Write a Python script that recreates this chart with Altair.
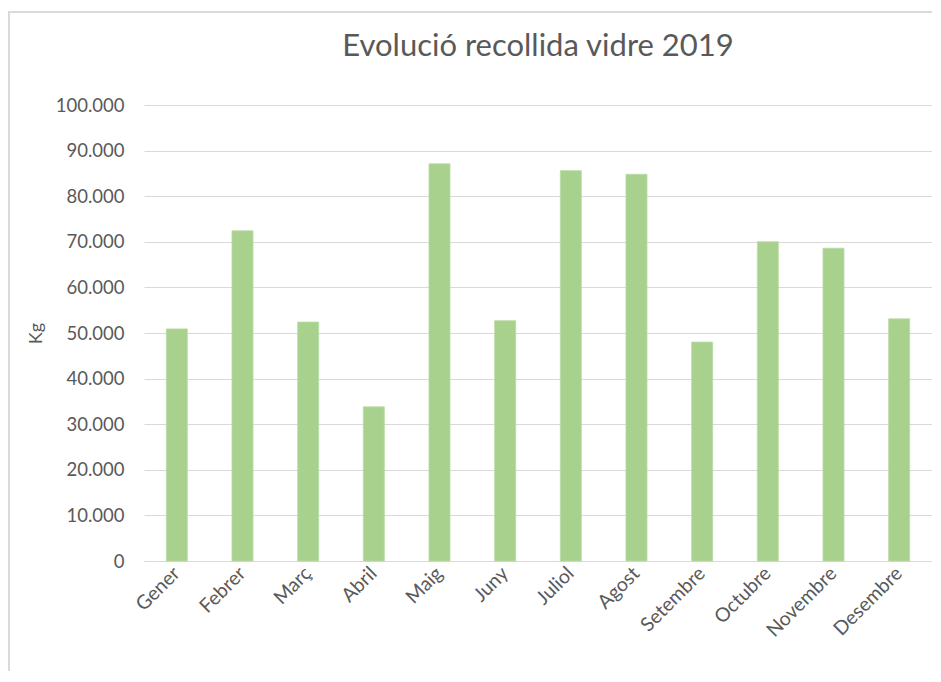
import altair as alt
import pandas as pd

months = ["Gener", "Febrer", "Març", "Abril", "Maig", "Juny", "Juliol", "Agost",
          "Setembre", "Octubre", "Novembre", "Desembre"]
kg = [50900, 72400, 52400, 33800, 87100, 52700, 85600, 84800, 48000, 70000, 68600, 53100]

df = pd.DataFrame({"Mes": months, "Kg": kg})

FONT = "Lato"
GREY = "#595959"

bars = alt.Chart(df).mark_bar(color="#A9D18E", stroke="#B9DBA2", strokeWidth=0.8).encode(
    x=alt.X("Mes:N", sort=months, title=None,
            scale=alt.Scale(paddingInner=0.68, paddingOuter=0.34),
            axis=alt.Axis(labelAngle=-45, labelAlign="right", labelBaseline="middle",
                          labelPadding=9, ticks=False, domainColor="#D9D9D9",
                          labelFontSize=19.5, labelColor=GREY, labelFont=FONT)),
    y=alt.Y("Kg:Q", title="Kg",
            scale=alt.Scale(domain=[0, 100000], nice=False),
            axis=alt.Axis(values=list(range(0, 100001, 10000)),
                          labelExpr="replace(format(datum.value, ','), ',', '.')",
                          ticks=False, domain=False, grid=True, gridColor="#D9D9D9",
                          labelPadding=20, labelFontSize=18.5, labelColor=GREY, labelFont=FONT,
                          titleFontSize=18, titleColor=GREY, titleFont=FONT,
                          titleFontWeight="normal", titlePadding=10)),
)

left_frame = alt.Chart(df).mark_rule(color="#D9D9D9", strokeWidth=1.5).encode(
    x=alt.value(-135.5), y=alt.value(-93), y2=alt.value(580))
top_frame = alt.Chart(df).mark_rule(color="#D9D9D9", strokeWidth=1.5).encode(
    x=alt.value(-135.5), x2=alt.value(800), y=alt.value(-93))

chart = alt.layer(bars, left_frame, top_frame).properties(
    width=788, height=456,
    title=alt.TitleParams("Evolució recollida vidre 2019", fontSize=31, font=FONT,
                          color=GREY, fontWeight="normal", anchor="middle",
                          frame="group", offset=-52),
    autosize=alt.AutoSizeParams(type="none"),
    padding={"left": 136, "top": 97, "right": 0, "bottom": 110},
).configure_view(stroke=None)

chart.save("out.html", embed_options={"renderer": "svg", "actions": False})
